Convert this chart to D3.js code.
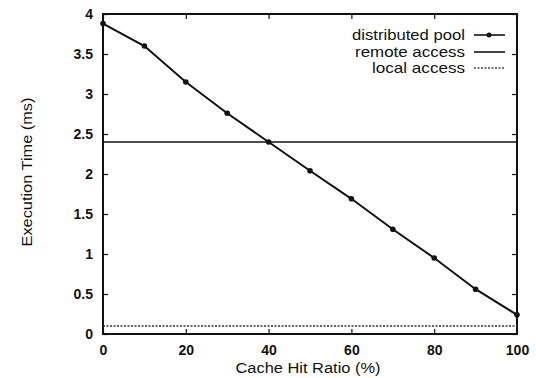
<!DOCTYPE html>
<html><head><meta charset="utf-8">
<script src="https://cdn.jsdelivr.net/npm/d3@7"></script>
<style>body{margin:0;background:#fff}svg text{font-family:"Liberation Sans",Arial,sans-serif;fill:#111}</style>
</head><body><svg id="c" width="536" height="378"></svg>
<script>
const hitRatio = [0,10,20,30,40,50,60,70,80,90,100];
const distributedPool = [3.88,3.6,3.15,2.76,2.4,2.04,1.69,1.31,0.95,0.56,0.24];
const remoteAccess = 2.4;
const localAccess = 0.1;
const xTicks = [0,20,40,60,80,100];
const yTicks = [0,0.5,1,1.5,2,2.5,3,3.5,4];
const legendLabels = ["distributed pool","remote access","local access"];

const svg = d3.select("#c");
const L=103,R=517,T=14,B=334;
const x = d3.scaleLinear().domain([0,100]).range([L,R]);
const y = d3.scaleLinear().domain([0,4]).range([B,T]);

const fmt = d=>String(d);
svg.append("g").attr("transform",`translate(0,${B})`)
  .call(d3.axisBottom(x).tickValues(xTicks).tickFormat(fmt).tickSize(-5).tickPadding(11))
  .call(g=>{g.select(".domain").remove();g.selectAll("text").attr("font-size",14).attr("font-weight","bold");});
svg.append("g").attr("transform",`translate(0,${T})`)
  .call(d3.axisTop(x).tickValues(xTicks).tickFormat("").tickSize(-5))
  .call(g=>g.select(".domain").remove());
svg.append("g").attr("transform",`translate(${L},0)`)
  .call(d3.axisLeft(y).tickValues(yTicks).tickFormat(fmt).tickSize(-5).tickPadding(10))
  .call(g=>{g.select(".domain").remove();g.selectAll("text").attr("font-size",14).attr("font-weight","bold");});
svg.append("g").attr("transform",`translate(${R},0)`)
  .call(d3.axisRight(y).tickValues(yTicks).tickFormat("").tickSize(-5))
  .call(g=>g.select(".domain").remove());
svg.selectAll(".tick line").attr("stroke","#111").attr("stroke-width",1.2);
svg.append("rect").attr("x",L).attr("y",T).attr("width",R-L).attr("height",B-T)
  .attr("fill","none").attr("stroke","#111").attr("stroke-width",2);

svg.append("line").attr("x1",x(0)).attr("x2",x(100)).attr("y1",y(remoteAccess)).attr("y2",y(remoteAccess))
  .attr("stroke","#111").attr("stroke-width",1.6);
svg.append("line").attr("x1",x(0)).attr("x2",x(100)).attr("y1",y(localAccess)).attr("y2",y(localAccess))
  .attr("stroke","#333").attr("stroke-width",1.5).attr("stroke-dasharray","2,1.5");
const line = d3.line().x((d,i)=>x(hitRatio[i])).y(d=>y(d));
svg.append("path").datum(distributedPool).attr("d",line).attr("fill","none").attr("stroke","#111").attr("stroke-width",2);
svg.selectAll("circle.p").data(distributedPool).join("circle").attr("class","p")
  .attr("cx",(d,i)=>x(hitRatio[i])).attr("cy",d=>y(d)).attr("r",2.8).attr("fill","#111");

const ly=[35,52,68];
const lw=[113,110,93];
legendLabels.forEach((t,i)=>{
  svg.append("text").attr("x",465).attr("y",ly[i]+5).attr("text-anchor","end").attr("font-size",15)
    .attr("textLength",lw[i]).attr("lengthAdjust","spacingAndGlyphs").text(t);
  const l = svg.append("line").attr("x1",474).attr("x2",505).attr("y1",ly[i]).attr("y2",ly[i]).attr("stroke","#111");
  if(i===0){l.attr("stroke-width",1.6);svg.append("circle").attr("cx",489).attr("cy",ly[i]).attr("r",2.5).attr("fill","#111");}
  if(i===1) l.attr("stroke-width",1.6);
  if(i===2) l.attr("stroke","#444").attr("stroke-width",1.5).attr("stroke-dasharray","2,1.5");
});

svg.append("text").attr("x",308).attr("y",373).attr("text-anchor","middle").attr("font-size",15.5)
  .attr("textLength",145).attr("lengthAdjust","spacingAndGlyphs").text("Cache Hit Ratio (%)");
svg.append("text").attr("transform",`translate(32,172) rotate(-90)`).attr("text-anchor","middle").attr("font-size",15.5)
  .attr("textLength",149).attr("lengthAdjust","spacingAndGlyphs").text("Execution Time (ms)");
</script></body></html>
